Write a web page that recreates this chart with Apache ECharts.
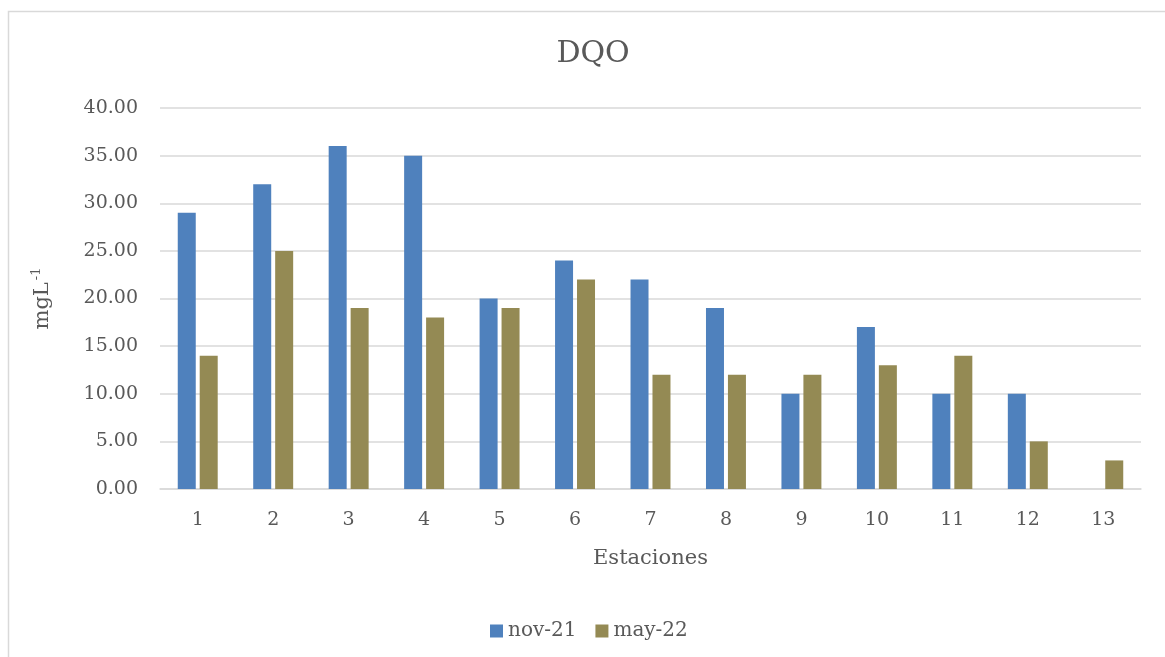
<!DOCTYPE html>
<html>
<head>
<meta charset="utf-8">
<script src="https://cdn.jsdelivr.net/npm/echarts@6/dist/echarts.min.js"></script>
<style>
  html, body { margin: 0; padding: 0; background: #fff; }
  #chart { width: 1165px; height: 657px; }
</style>
</head>
<body>
<div id="chart"></div>
<script>
// Stations along the x axis
const estaciones = ['1', '2', '3', '4', '5', '6', '7', '8', '9', '10', '11', '12', '13'];
// DQO (mg/L) per sampling campaign
const nov21 = [29, 32, 36, 35, 20, 24, 22, 19, 10, 17, 10, 10, null];
const may22 = [14, 25, 19, 18, 19, 22, 12, 12, 12, 13, 14, 5, 3];
const seriesNames = ['nov-21', 'may-22'];

const FONT = '"DejaVu Serif", "Liberation Serif", serif';
const TEXT = '#595959';
const GRID = '#d9d9d9';

const chart = echarts.init(document.getElementById('chart'), null, { renderer: 'canvas' });

chart.setOption({
  backgroundColor: '#ffffff',
  animation: false,
  textStyle: { fontFamily: FONT, color: TEXT },
  graphic: [{
    type: 'rect',
    shape: { x: 8.5, y: 11.5, width: 1170, height: 660 },
    style: { fill: null, stroke: GRID, lineWidth: 1.5 },
    silent: true,
    z: -10
  }],
  title: {
    text: 'DQO',
    left: 588,
    top: 34,
    textAlign: 'center',
    textStyle: { fontFamily: FONT, fontSize: 30, fontWeight: 'normal', color: TEXT }
  },
  legend: {
    data: seriesNames,
    left: 485,
    top: 616,
    itemWidth: 13,
    itemHeight: 13,
    itemGap: 19,
    icon: 'rect',
    textStyle: { fontFamily: FONT, fontSize: 20, color: TEXT }
  },
  grid: { left: 160, right: 24, top: 108, bottom: 168, containLabel: false },
  xAxis: {
    type: 'category',
    data: estaciones,
    name: 'Estaciones',
    nameLocation: 'middle',
    nameGap: 59,
    nameTextStyle: { fontFamily: FONT, fontSize: 21, color: TEXT },
    axisLine: { lineStyle: { color: GRID, width: 1.5 } },
    axisTick: { show: false },
    axisLabel: { fontFamily: FONT, fontSize: 19, color: TEXT, margin: 22 }
  },
  yAxis: {
    type: 'value',
    min: 0,
    max: 40,
    interval: 5,
    name: '{b|mgL}{s|-1}',
    nameLocation: 'middle',
    nameGap: 105,
    nameRotate: 90,
    nameTextStyle: {
      rich: {
        b: { fontFamily: FONT, fontSize: 21, color: TEXT },
        s: { fontFamily: FONT, fontSize: 13, color: TEXT, padding: [0, 0, 12, 2] }
      }
    },
    axisLine: { show: false },
    axisTick: { show: false },
    splitLine: { lineStyle: { color: GRID, width: 1.5 } },
    axisLabel: {
      fontFamily: FONT, fontSize: 19, color: TEXT, margin: 22,
      formatter: v => v.toFixed(2)
    }
  },
  series: [
    {
      name: seriesNames[0],
      type: 'bar',
      data: nov21,
      barWidth: 18,
      barGap: '22%',
      itemStyle: { color: '#4f81bd' }
    },
    {
      name: seriesNames[1],
      type: 'bar',
      data: may22,
      barWidth: 18,
      itemStyle: { color: '#948a54' }
    }
  ]
});
</script>
</body>
</html>
